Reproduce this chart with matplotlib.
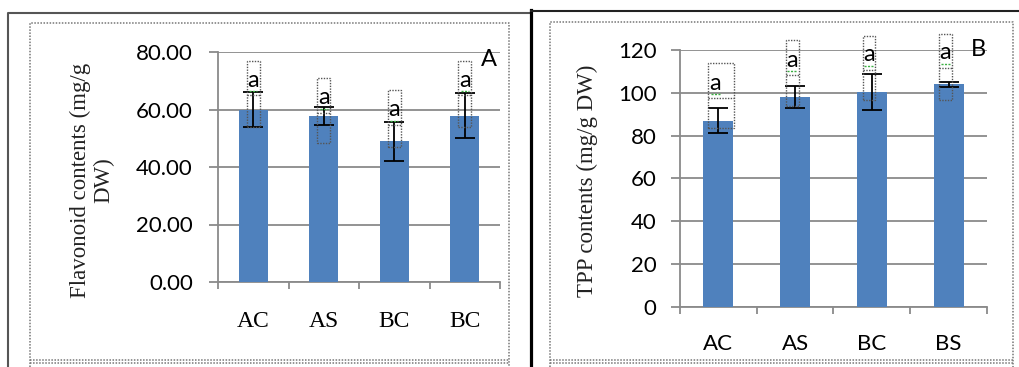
import matplotlib
matplotlib.use("Agg")
import matplotlib.pyplot as plt
import matplotlib.transforms as mtrans
from matplotlib.patches import Rectangle
from matplotlib.lines import Line2D

# data, panel A (flavonoids)
cats_a = ["AC", "AS", "BC", "BC"]
flav = [60.0, 57.8, 48.9, 57.9]
flav_err = [6.1, 3.2, 6.8, 7.7]
sig_a = ["a", "a", "a", "a"]
sig_a_y = [70.2, 64.1, 59.9, 70.2]
box_a_top = [76.7, 71.1, 66.9, 77.0]
box_a_bot = [54.0, 48.4, 47.0, 54.0]

# data, panel B (TPP)
cats_b = ["AC", "AS", "BC", "BS"]
tpp = [87.0, 98.0, 100.2, 104.0]
tpp_err = [5.7, 5.0, 8.4, 1.2]
sig_b = ["a", "a", "a", "a"]
sig_b_y = [104.5, 115.3, 117.7, 118.6]
box_b_top = [113.9, 124.7, 126.6, 127.5]
box_b_bot = [83.5, 93.8, 96.6, 96.6]

W, H = 1020, 367
BLUE = "#4F81BD"
GRID = "#8a8a8a"
SANS = ["Lato", "DejaVu Sans"]
SERIF = ["Liberation Serif", "DejaVu Serif"]

fig = plt.figure(figsize=(W / 100, H / 100), dpi=100)
fig.patch.set_facecolor("white")


def fx(x):
    return x / W


def fy(y):
    return 1 - y / H


def frame_line(xs, ys, **kw):
    fig.add_artist(Line2D([fx(v) for v in xs], [fy(v) for v in ys], **kw))


# outer frames
frame_line([8.5, 8.5, 531], [367, 12.5, 12.5], color="#555555", lw=1.5)
frame_line([531, 531], [367, 10], color="black", lw=2.3)
frame_line([531, 1020], [10.5, 10.5], color="#222222", lw=1.5)
# dotted inner frames
for x0, y0, x1, y1 in [(30, 23, 509, 361), (550, 22, 1013, 361)]:
    frame_line([x0, x0, x1, x1], [367, y0, y0, 367], color="#777777", lw=1.1, ls=(0, (1, 1)))
    frame_line([x0, x1], [y1 - 1, y1 - 1], color="#777777", lw=1.1, ls=(0, (1, 1)))
    frame_line([x0, x1], [y1 + 1.5, y1 + 1.5], color="#777777", lw=1.1, ls=(0, (1, 1)))


def make_panel(rect, cats, vals, errs, ymax, step, fmt, bar_w, xfont, xsize, xpad, ytick_pad):
    ax = fig.add_axes(rect)
    x = range(len(cats))
    ax.bar(x, vals, width=bar_w, color=BLUE, zorder=3)
    ax.errorbar(x, vals, yerr=errs, fmt="none", ecolor="black", elinewidth=1.3,
                capsize=7, capthick=1.3, zorder=4)
    ax.set_xlim(-0.5, len(cats) - 0.5)
    ax.set_ylim(0, ymax)
    ticks = list(range(0, ymax + 1, step))
    ax.set_yticks(ticks)
    ax.set_yticklabels([fmt.format(t) for t in ticks], fontsize=16, family=SANS)
    ax.yaxis.grid(True, color=GRID, lw=1.3, zorder=0)
    ax.set_axisbelow(True)
    for s in ["top", "right"]:
        ax.spines[s].set_visible(False)
    for s in ["left", "bottom"]:
        ax.spines[s].set_color(GRID)
        ax.spines[s].set_linewidth(1.3)
    ax.set_xticks(list(x))
    ax.set_xticklabels(cats, fontsize=xsize, family=xfont, color="black")
    ax.set_xticks([i - 0.5 for i in range(len(cats) + 1)], minor=True)
    ax.tick_params(axis="x", which="major", length=0, pad=xpad)
    ax.tick_params(axis="x", which="minor", length=5, width=1.3, color=GRID)
    ax.tick_params(axis="y", length=6.5, width=1.3, color=GRID, pad=ytick_pad, labelcolor="black")
    return ax


def sig_marks(ax, xs, ys, labels, tops, bots, widths):
    wave = mtrans.offset_copy(ax.transData, fig=fig, y=-11, units="dots")
    div = mtrans.offset_copy(ax.transData, fig=fig, y=-15, units="dots")
    for i in range(len(labels)):
        ax.text(xs[i], ys[i], labels[i], ha="center", va="center", fontsize=17,
                family=SANS, color="black", zorder=6, clip_on=False)
        ax.plot([xs[i] - 0.06, xs[i] + 0.06], [ys[i], ys[i]], color="#3cb043", lw=1.0,
                ls=(0, (1.5, 1)), transform=wave, zorder=6, clip_on=False)
        bx = xs[i] if widths[i] < 0.3 else xs[i] + 0.08
        ax.add_patch(Rectangle((bx - widths[i] / 2, bots[i]), widths[i], tops[i] - bots[i],
                               fill=False, ec="#555555", lw=1.0, ls=(0, (1, 1)),
                               zorder=5, clip_on=False))
        ax.plot([bx - widths[i] / 2, bx + widths[i] / 2], [ys[i], ys[i]], color="#555555",
                lw=1.0, ls=(0, (1, 1)), transform=div, zorder=5, clip_on=False)


# panel A
ax1 = make_panel([fx(218), fy(282), 282 / W, 230 / H], cats_a, flav, flav_err,
                 80, 20, "{:.2f}", 0.41, SERIF, 17, 21, 11.5)
sig_marks(ax1, [i for i in range(4)], sig_a_y, sig_a, box_a_top, box_a_bot, [0.19] * 4)
fig.text(fx(92), fy(180), "Flavonoid contents (mg/g\nDW)", rotation=90, ha="center",
         va="center", fontsize=16.5, family=SERIF, color="#222222", linespacing=1.1)
fig.text(fx(489), fy(60), "A", ha="center", va="center", fontsize=17, family=SANS, color="black")

# panel B
ax2 = make_panel([fx(680), fy(306.7), 307 / W, 256.7 / H], cats_b, tpp, tpp_err,
                 120, 20, "{:d}", 0.39, SANS, 16, 20, 10.5)
sig_marks(ax2, [i - 0.04 for i in range(4)], sig_b_y, sig_b, box_b_top, box_b_bot,
          [0.34, 0.17, 0.15, 0.17])
fig.text(fx(587), fy(181), "TPP contents (mg/g DW)", rotation=90, ha="center",
         va="center", fontsize=16.5, family=SERIF, color="#222222")
fig.text(fx(978), fy(50), "B", ha="center", va="center", fontsize=17, family=SANS, color="black")

fig.savefig("out.png", dpi=100)
